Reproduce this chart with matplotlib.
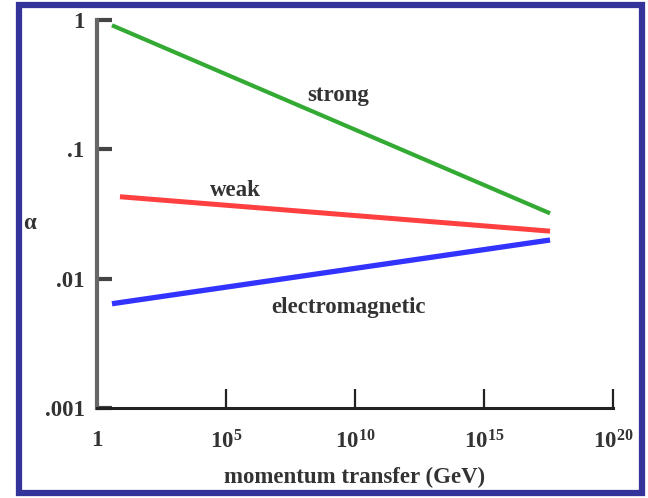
import numpy as np
import matplotlib
matplotlib.use("Agg")
import matplotlib.pyplot as plt
from matplotlib.patches import Rectangle

plt.rcParams['font.family'] = ['Liberation Serif', 'DejaVu Serif']
plt.rcParams['mathtext.fontset'] = 'custom'
plt.rcParams['mathtext.rm'] = 'Liberation Serif:bold'
plt.rcParams['mathtext.it'] = 'Liberation Serif:bold'

# Coupling constants vs momentum transfer (end points of each line)
q_strong = [10**0.58, 10**17.56]
a_strong = [0.91, 0.032]
q_weak = [10**0.89, 10**17.56]
a_weak = [0.043, 0.0233]
q_em = [10**0.58, 10**17.56]
a_em = [0.0064, 0.0199]

xticks = [1, 1e5, 1e10, 1e15, 1e20]
xlabels = ['1', '$10^{5}$', '$10^{10}$', '$10^{15}$', '$10^{20}$']
yticks = [1e-3, 1e-2, 1e-1, 1]
ylabels = ['.001', '.01', '.1', '1']

fig = plt.figure(figsize=(6.48, 4.98), dpi=100)
ax = fig.add_axes([97/648, 90/498, 516/648, 388/498])

ax.plot(q_strong, a_strong, color='#33aa33', lw=3.0, solid_capstyle='butt')
ax.plot(q_weak, a_weak, color='#ff4040', lw=3.6, solid_capstyle='butt')
ax.plot(q_em, a_em, color='#3333ff', lw=3.8, solid_capstyle='butt')

ax.set_xscale('log')
ax.set_yscale('log')
ax.set_xlim(1, 1e20)
ax.set_ylim(1e-3, 1)

ax.set_xticks(xticks)
ax.set_xticklabels(xlabels)
ax.set_yticks(yticks)
ax.set_yticklabels(ylabels)
ax.minorticks_off()

fs = 16.5
ax.tick_params(axis='x', direction='in', length=14, width=1.6, color='#222222',
               pad=16, labelsize=fs, labelcolor='#333333')
ax.tick_params(axis='y', direction='in', length=11, width=3, color='#444444',
               pad=9, labelsize=fs, labelcolor='#333333')
for lab in ax.get_yticklabels() + ax.get_xticklabels():
    lab.set_fontweight('bold')

for s in ['top', 'right']:
    ax.spines[s].set_visible(False)
ax.spines['left'].set_color('#666666')
ax.spines['left'].set_linewidth(3)
ax.spines['bottom'].set_color('#222222')
ax.spines['bottom'].set_linewidth(2.2)

ax.set_xlabel('momentum transfer (GeV)', fontsize=fs, fontweight='bold',
              color='#333333', va='center')
ax.xaxis.set_label_coords(0.5, -0.18)
ax.set_ylabel('α', rotation=0, fontsize=fs, fontweight='bold', color='#333333',
              ha='center', va='center')
ax.yaxis.set_label_coords(-0.13, 0.475)

ax.text(10**9.34, 10**-0.58, 'strong', fontsize=fs, fontweight='bold',
        color='#333333', ha='center', va='center')
ax.text(10**5.35, 10**-1.32, 'weak', fontsize=fs, fontweight='bold',
        color='#333333', ha='center', va='center')
ax.text(10**9.76, 10**-2.22, 'electromagnetic', fontsize=fs, fontweight='bold',
        color='#333333', ha='center', va='center')

# blue frame around the figure
fig.patches.append(Rectangle((19/648, 5/498), 623/648, 488/498,
                             transform=fig.transFigure, fill=False,
                             edgecolor='#333399', lw=4.5))

fig.savefig('out.png', dpi=100)
